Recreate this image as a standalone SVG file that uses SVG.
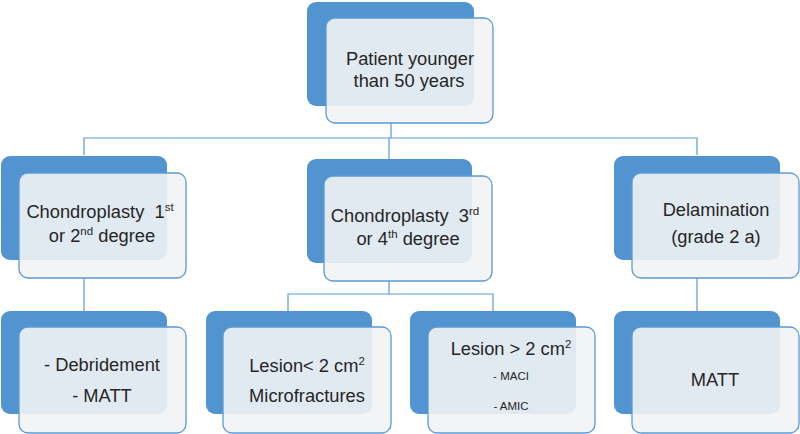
<svg xmlns="http://www.w3.org/2000/svg" width="800" height="434" viewBox="0 0 800 434">
<style>
.back{fill:#5294CF;}
.front{fill:#f2f3f4;fill-opacity:0.9;stroke:#5B9BD5;stroke-width:1.3;}
.t{font-family:"Liberation Sans",Arial,sans-serif;font-size:18.3px;fill:#262626;text-anchor:middle;}
.s{font-family:"Liberation Sans",Arial,sans-serif;font-size:11.5px;fill:#262626;text-anchor:middle;}
.sup{font-size:11.5px;}
.c{fill:none;stroke:#5B9BD5;stroke-width:1.2;}
</style>
<rect width="800" height="434" fill="#ffffff"/>
<g id="connectors">
<path class="c" d="M391,123 V138 M84,155 V138 H697 V155 M389,138 V159"/>
<path class="c" d="M84,278 V311 M697,278 V311 M389,281 V294 M288,311 V294 H493 V311"/>
</g>
<g id="n-patient">
<rect class="back" x="307" y="2" width="167" height="104" rx="9"/>
<rect class="front" x="326" y="18" width="167" height="105" rx="9"/>
<text class="t" x="410" y="65">Patient younger</text>
<text class="t" x="409" y="87">than 50 years</text>
</g>
<g id="n-chondro12">
<rect class="back" x="1" y="156" width="166" height="104" rx="9"/>
<rect class="front" x="19" y="173" width="167" height="105" rx="9"/>
<text class="t" x="100" y="218">Chondroplasty &#160;1<tspan class="sup" dy="-7">st</tspan></text>
<text class="t" x="102" y="242">or 2<tspan class="sup" dy="-7">nd</tspan><tspan dy="7"> degree</tspan></text>
</g>
<g id="n-chondro34">
<rect class="back" x="307" y="159" width="165" height="104" rx="9"/>
<rect class="front" x="324" y="176" width="168" height="105" rx="9"/>
<text class="t" x="405" y="222">Chondroplasty &#160;3<tspan class="sup" dy="-7">rd</tspan></text>
<text class="t" x="408" y="245">or 4<tspan class="sup" dy="-7">th</tspan><tspan dy="7"> degree</tspan></text>
</g>
<g id="n-delam">
<rect class="back" x="614" y="156" width="166" height="104" rx="9"/>
<rect class="front" x="632" y="173" width="167" height="105" rx="9"/>
<text class="t" x="716" y="216">Delamination</text>
<text class="t" x="716" y="243">(grade 2 a)</text>
</g>
<g id="n-debride">
<rect class="back" x="1" y="311" width="166" height="103" rx="9"/>
<rect class="front" x="19" y="327" width="167" height="106" rx="9"/>
<text class="t" x="102" y="371">- Debridement</text>
<text class="t" x="102" y="402">- MATT</text>
</g>
<g id="n-lesion-small">
<rect class="back" x="206" y="311" width="166" height="103" rx="9"/>
<rect class="front" x="223" y="327" width="168" height="106" rx="9"/>
<text class="t" x="307" y="372">Lesion&lt; 2 cm<tspan class="sup" dy="-7">2</tspan></text>
<text class="t" x="307" y="402">Microfractures</text>
</g>
<g id="n-lesion-large">
<rect class="back" x="410" y="311" width="166" height="103" rx="9"/>
<rect class="front" x="428" y="327" width="167" height="106" rx="9"/>
<text class="t" x="511" y="355">Lesion &gt; 2 cm<tspan class="sup" dy="-7">2</tspan></text>
<text class="s" x="511" y="380">- MACI</text>
<text class="s" x="511" y="410">- AMIC</text>
</g>
<g id="n-matt">
<rect class="back" x="614" y="311" width="166" height="103" rx="9"/>
<rect class="front" x="632" y="327" width="167" height="106" rx="9"/>
<text class="t" x="715" y="386">MATT</text>
</g>
</svg>
